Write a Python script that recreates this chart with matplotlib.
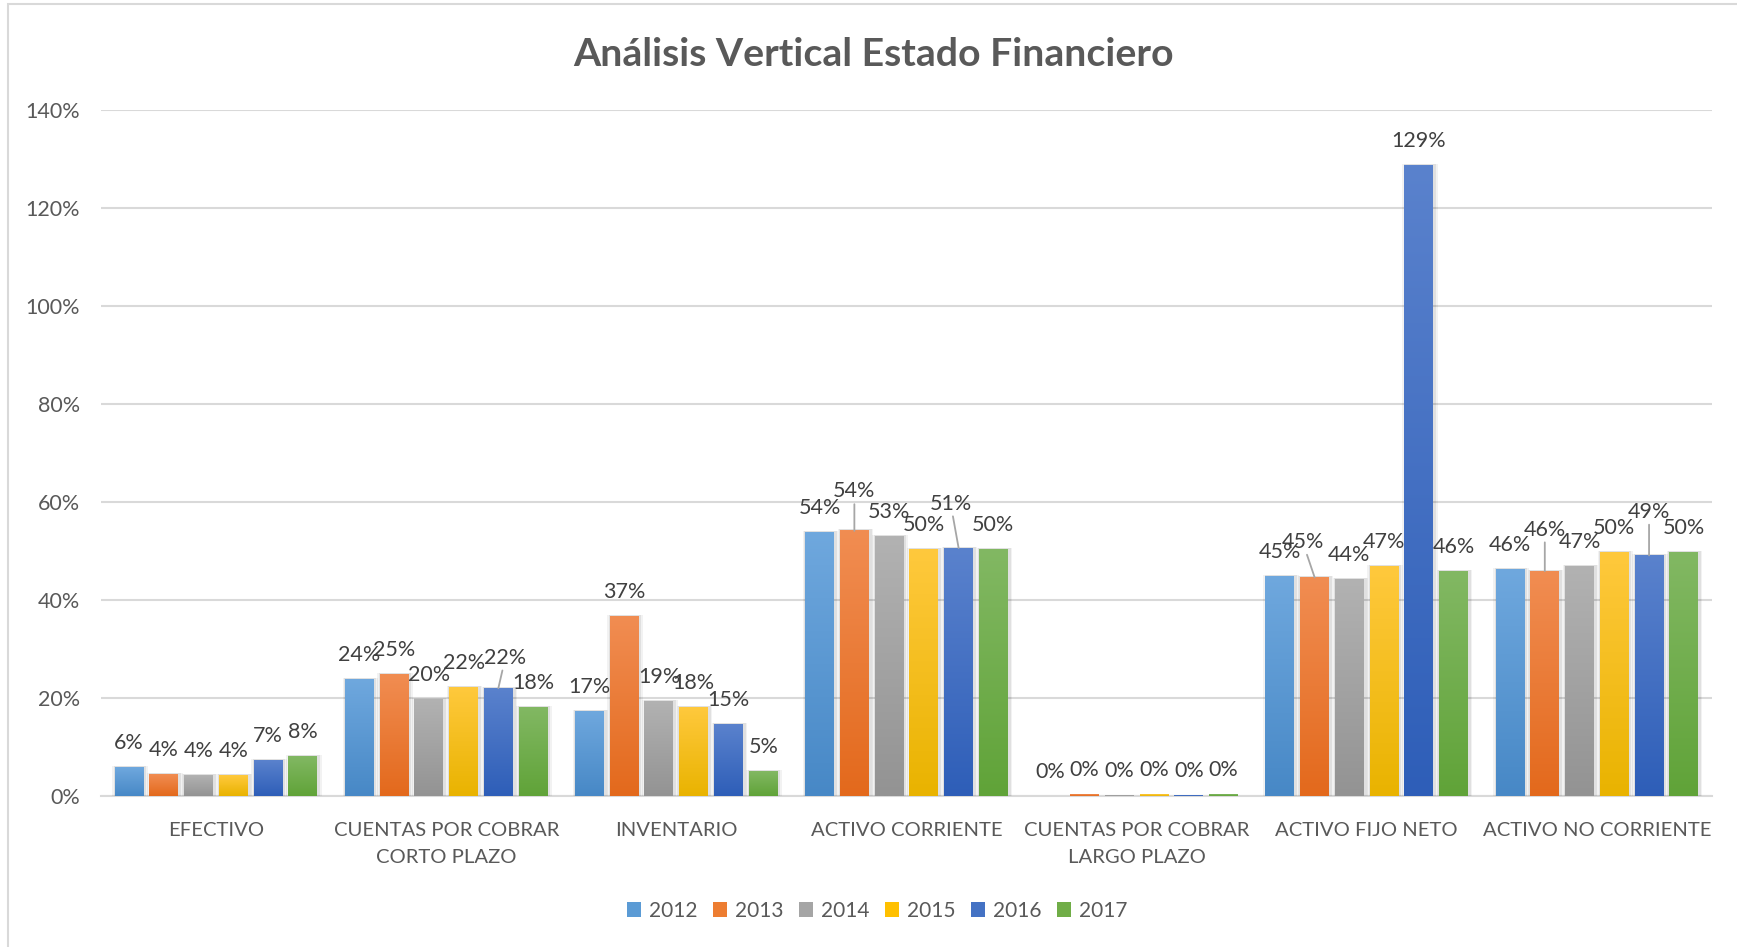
import matplotlib
matplotlib.use("Agg")
import matplotlib.pyplot as plt
import numpy as np
from matplotlib.patches import Patch, Rectangle
from matplotlib.colors import LinearSegmentedColormap, to_rgb
from matplotlib.ticker import PercentFormatter

# ---------------- data ----------------
categories = ["EFECTIVO", "CUENTAS POR COBRAR\nCORTO PLAZO", "INVENTARIO",
              "ACTIVO CORRIENTE", "CUENTAS POR COBRAR\nLARGO PLAZO",
              "ACTIVO FIJO NETO", "ACTIVO NO CORRIENTE"]
years = ["2012", "2013", "2014", "2015", "2016", "2017"]
v2012 = [5.9, 23.8, 17.3, 53.7, 0.0, 44.8, 46.3]
v2013 = [4.4, 24.8, 36.6, 54.1, 0.25, 44.6, 45.9]
v2014 = [4.2, 19.6, 19.3, 53.0, 0.05, 44.2, 46.9]
v2015 = [4.2, 22.2, 18.0, 50.3, 0.3, 46.9, 49.6]
v2016 = [7.3, 22.0, 14.6, 50.6, 0.2, 128.6, 49.1]
v2017 = [8.1, 18.1, 5.0, 50.3, 0.3, 45.9, 49.6]
series = [v2012, v2013, v2014, v2015, v2016, v2017]
yticks = [0, 20, 40, 60, 80, 100, 120, 140]

# ---------------- style ----------------
base_colors = ["#5B9BD5", "#ED7D31", "#A5A5A5", "#FFC000", "#4472C4", "#70AD47"]
top_colors = ["#6FA8DE", "#F18D52", "#B2B2B2", "#FFC93D", "#5A82CD", "#82B863"]
bot_colors = ["#4788C6", "#E3691C", "#939393", "#E9B300", "#2E5EB8", "#60A338"]
label_adjust = {  # (category, series): (dx px, dy px) for moved labels with leader lines
    (1, 4): (7, 6),
    (3, 1): (0, 15),
    (3, 4): (-8, 20),
    (5, 1): (-12, 11),
    (6, 1): (0, 17),
    (6, 4): (0, 19),
}

FONT = "Lato"
plt.rcParams["font.family"] = [FONT, "DejaVu Sans"]

W, H = 1737, 947
fig = plt.figure(figsize=(W / 100, H / 100), dpi=100)
ax = fig.add_axes([101 / W, 1 - 796 / H, (1712 - 101) / W, (796 - 110) / H])

n = len(series)
pitch = 0.151
bw = 0.126
x = np.arange(len(categories))

ax.set_xlim(-0.5, len(categories) - 0.5)
ax.set_ylim(0, 140)

for j, vals in enumerate(series):
    xs = x + (j - (n - 1) / 2) * pitch
    # soft shadow
    for k, (wf, a) in enumerate([(1.22, 0.05), (1.12, 0.07)]):
        sh = [v + 0.7 if v > 1 else 0 for v in vals]
        ax.bar(xs + 0.004, sh, width=bw * wf, bottom=-0.4, color="black",
               alpha=a, linewidth=0, zorder=1)
    bars = ax.bar(xs, vals, width=bw, color=base_colors[j], linewidth=0,
                  zorder=2, label=years[j])
    cmap = LinearSegmentedColormap.from_list(
        "g%d" % j, [to_rgb(bot_colors[j]), to_rgb(top_colors[j])])
    grad = np.linspace(0, 1, 256).reshape(-1, 1)
    for b in bars:
        h = b.get_height()
        if h <= 0:
            continue
        ax.imshow(grad[::-1], cmap=cmap, aspect="auto", origin="upper",
                  extent=[b.get_x(), b.get_x() + b.get_width(), 0, h],
                  zorder=3, interpolation="bilinear")
    for i, b in enumerate(bars):
        v = vals[i]
        dx, dy = label_adjust.get((i, j), (0, 0))
        kw = {}
        if (i, j) in label_adjust:
            kw["arrowprops"] = dict(arrowstyle="-", color="#A6A6A6", lw=1.3,
                                    shrinkA=0, shrinkB=0)
        ax.annotate("%d%%" % int(v + 0.5), xy=(b.get_x() + b.get_width() / 2, v),
                    xytext=(dx, 24.5 + dy), textcoords="offset pixels",
                    ha="center", va="center", fontsize=15.5, color="#404040",
                    zorder=5, **kw)

ax.set_xlim(-0.5, len(categories) - 0.5)
ax.set_ylim(0, 140)
ax.set_yticks(yticks)
ax.yaxis.set_major_formatter(PercentFormatter(decimals=0))
ax.set_xticks(x)
ax.set_xticklabels(categories, linespacing=1.75)
ax.tick_params(axis="y", length=0, pad=15, labelsize=15.5, labelcolor="#595959")
ax.tick_params(axis="x", length=0, pad=18.5, labelsize=14.6, labelcolor="#595959")
ax.grid(axis="y", color="#D9D9D9", linewidth=1.5, zorder=0)
ax.set_axisbelow(True)
for s in ["left", "right", "top"]:
    ax.spines[s].set_visible(False)
ax.spines["bottom"].set_color("#D9D9D9")
ax.spines["bottom"].set_linewidth(1.5)
ax.spines["bottom"].set_zorder(0.5)

fig.text(874 / W, 1 - 54 / H, "Análisis Vertical Estado Financiero",
         ha="center", va="center", fontsize=28.3, fontweight="bold",
         color="#595959")

handles = [Patch(facecolor=c, edgecolor="none") for c in base_colors]
fig.legend(handles, years, loc="center", bbox_to_anchor=(877 / W, 1 - 911 / H),
           ncol=6, frameon=False, fontsize=15, handlelength=0.7,
           handleheight=0.7, handletextpad=0.35, columnspacing=0.75,
           labelcolor="#595959")

fig.patches.append(Rectangle((7.5 / W, -0.1), 2, 1 - 4.5 / H + 0.1,
                             transform=fig.transFigure, fill=False,
                             edgecolor="#D9D9D9", linewidth=1.5))

fig.savefig("out.png", dpi=100)
